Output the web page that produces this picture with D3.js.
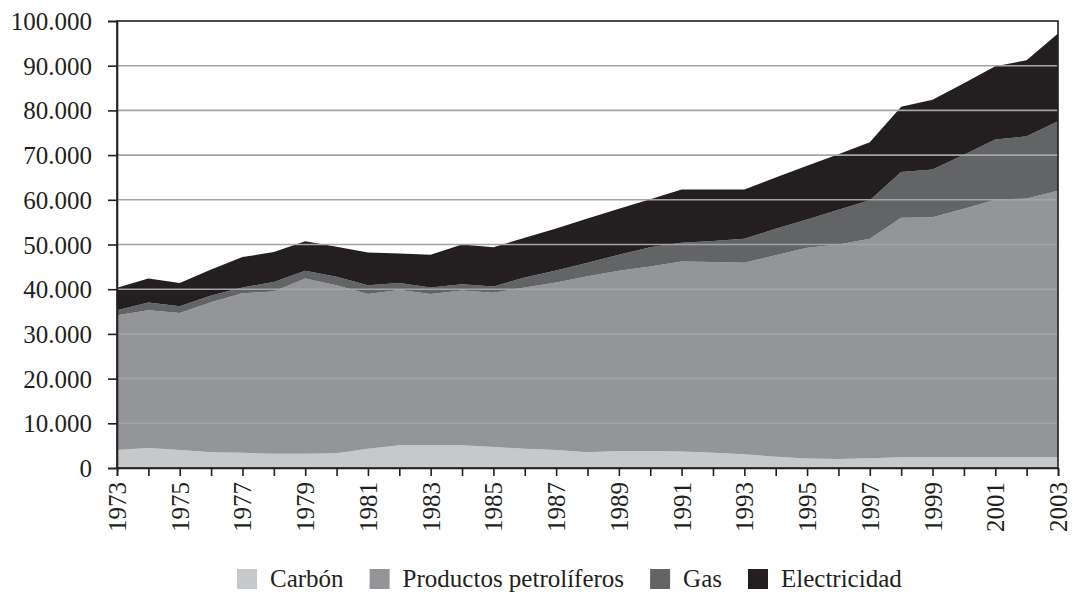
<!DOCTYPE html>
<html>
<head>
<meta charset="utf-8">
<script src="https://cdn.jsdelivr.net/npm/d3@7"></script>
<style>
  html, body { margin: 0; padding: 0; background: #fff; }
</style>
</head>
<body>
<svg id="chart" width="1072" height="597"></svg>
<script>
const years = d3.range(1973, 2004);
const carbon = [4000,4500,4000,3500,3400,3200,3200,3300,4300,5100,5100,5100,4700,4300,4000,3500,3800,3800,3700,3400,3100,2500,2100,2000,2200,2400,2400,2400,2400,2400,2400];
const petroleo = [30200,30800,30700,33600,35700,36300,39200,37600,34600,34700,33800,34600,34500,36100,37500,39400,40300,41300,42500,42700,42800,45100,47200,48000,49100,53600,53700,55600,57600,57900,59600];
const gas = [1100,1700,1500,1500,1300,2100,1700,1900,2000,1600,1500,1400,1400,2200,2700,3000,3600,4300,4200,4700,5400,5900,6300,7800,8600,10200,10700,12100,13500,13900,15600];
const electricidad = [5000,5400,5200,5800,6800,6700,6600,6700,7300,6600,7300,8900,8800,8900,9400,9900,10300,10700,11900,11500,11000,11500,12000,12400,13000,14600,15600,16000,16400,17000,19600];
const seriesNames = ["Carbón", "Productos petrolíferos", "Gas", "Electricidad"];
const seriesColors = ["#c7c8ca", "#939598", "#636466", "#231f20"];
const yTicks = [0,10000,20000,30000,40000,50000,60000,70000,80000,90000,100000];

const FONT = '"Liberation Serif"';

const table = years.map((yr, i) => ({
  year: yr,
  "Carbón": carbon[i],
  "Productos petrolíferos": petroleo[i],
  "Gas": gas[i],
  "Electricidad": electricidad[i]
}));

const svg = d3.select("#chart");
const mLeft = 117, mRight = 1058, mTop = 21, mBottom = 468;

const x = d3.scaleLinear().domain([1973, 2003]).range([mLeft, mRight]);
const y = d3.scaleLinear().domain([0, 100000]).range([mBottom, mTop]);

const loc = d3.formatLocale({decimal: ",", thousands: ".", grouping: [3], currency: ["", ""]});
const fmt = loc.format(",d");

const stacked = d3.stack().keys(seriesNames)(table);

const area = d3.area()
  .x(d => x(d.data.year))
  .y0(d => y(d[0]))
  .y1(d => y(d[1]));

svg.append("g").selectAll("path")
  .data(stacked)
  .join("path")
  .attr("d", area)
  .attr("fill", (d, i) => seriesColors[i]);

// gridlines on top
svg.append("g").selectAll("line")
  .data(yTicks.filter(t => t > 0 && t < 100000))
  .join("line")
  .attr("x1", mLeft).attr("x2", mRight)
  .attr("y1", d => y(d)).attr("y2", d => y(d))
  .attr("stroke", "#a3a4a6")
  .attr("stroke-width", 1.6);

// frame
svg.append("rect")
  .attr("x", mLeft).attr("y", mTop)
  .attr("width", mRight - mLeft).attr("height", mBottom - mTop)
  .attr("fill", "none")
  .attr("stroke", "#231f20")
  .attr("stroke-width", 1.6);

// y axis
const yAxis = svg.append("g")
  .attr("transform", `translate(${mLeft},0)`)
  .call(d3.axisLeft(y).tickValues(yTicks).tickFormat(fmt).tickSize(9).tickPadding(16));
yAxis.select(".domain").attr("stroke", "#231f20").attr("stroke-width", 1.6);
yAxis.selectAll(".tick line").attr("stroke", "#231f20").attr("stroke-width", 1.6);
yAxis.selectAll("text")
  .style("font-family", FONT)
  .style("font-size", "25px")
  .attr("fill", "#231f20")
  .attr("dy", "0.34em");

// x axis
const xAxis = svg.append("g")
  .attr("transform", `translate(0,${mBottom})`)
  .call(d3.axisBottom(x).tickValues(years).tickFormat(d => ((d - 1973) % 2 === 0 ? String(d) : "")).tickSize(8));
xAxis.select(".domain").attr("stroke", "#231f20").attr("stroke-width", 1.6);
xAxis.selectAll(".tick line").attr("stroke", "#231f20").attr("stroke-width", 1.6);
xAxis.selectAll("text")
  .style("font-family", FONT)
  .style("font-size", "25px")
  .attr("fill", "#231f20")
  .attr("transform", "rotate(-90)")
  .attr("text-anchor", "end")
  .attr("x", -14)
  .attr("y", 0)
  .attr("dy", "0.34em");

// legend
const legend = svg.append("g");
let lx = 237;
seriesNames.forEach((name, i) => {
  legend.append("rect")
    .attr("x", lx).attr("y", 569)
    .attr("width", 20).attr("height", 20)
    .attr("fill", seriesColors[i]);
  const t = legend.append("text")
    .attr("x", lx + 33).attr("y", 587)
    .style("font-family", FONT)
    .style("font-size", "25px")
    .attr("fill", "#231f20")
    .text(name);
  lx = lx + 33 + t.node().getComputedTextLength() + 26;
});
</script>
</body>
</html>
